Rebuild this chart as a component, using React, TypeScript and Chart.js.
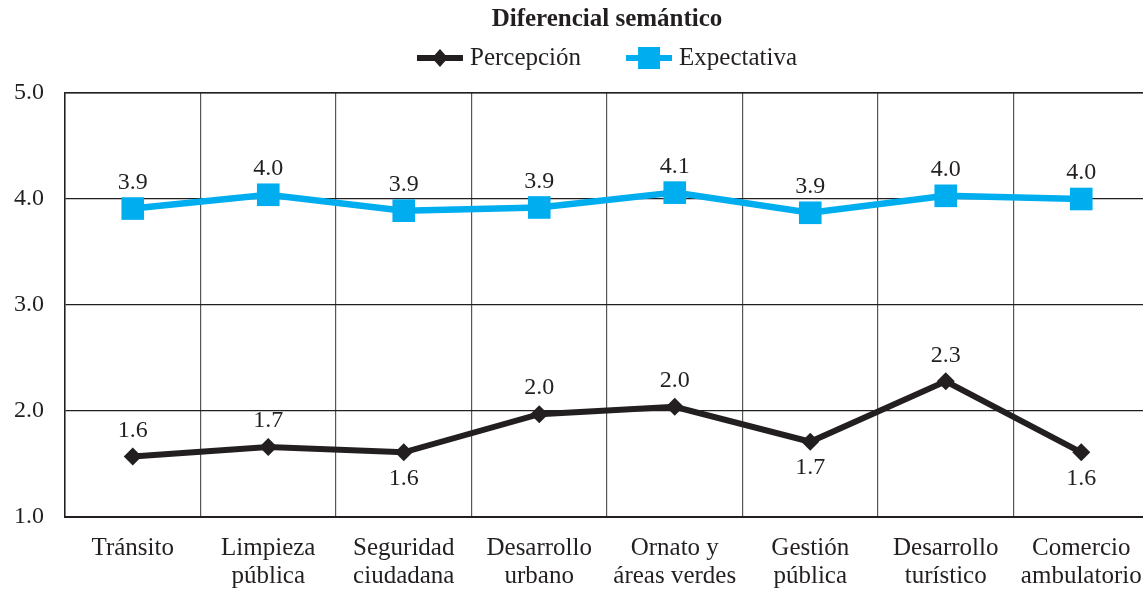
import React, { useEffect, useRef } from "react";
import { Chart, registerables } from "chart.js";

Chart.register(...registerables);

const chartTitle = "Diferencial semántico";
const categories: string[][] = [
  ["Tránsito"],
  ["Limpieza", "pública"],
  ["Seguridad", "ciudadana"],
  ["Desarrollo", "urbano"],
  ["Ornato y", "áreas verdes"],
  ["Gestión", "pública"],
  ["Desarrollo", "turístico"],
  ["Comercio", "ambulatorio"],
];
const percepcion = [1.57, 1.66, 1.61, 1.97, 2.04, 1.71, 2.28, 1.61];
const expectativa = [3.91, 4.04, 3.89, 3.92, 4.06, 3.87, 4.03, 4.0];
// label position: 1 = above the point, -1 = below
const percepcionLabelPos = [1, 1, -1, 1, 1, -1, 1, -1];
const expectativaLabelPos = [1, 1, 1, 1, 1, 1, 1, 1];
const yTicks = [1, 2, 3, 4, 5];

const BLACK = "#231f20";
const BLUE = "#00aeef";
const FONT = "'Liberation Serif', 'DejaVu Serif', serif";

const labelPlugin = {
  id: "valueLabels",
  afterDatasetsDraw(chart: any) {
    const ctx = chart.ctx;
    ctx.save();
    ctx.font = `24px ${FONT}`;
    ctx.fillStyle = BLACK;
    ctx.textAlign = "center";
    ctx.textBaseline = "middle";
    chart.data.datasets.forEach((ds: any, di: number) => {
      const meta = chart.getDatasetMeta(di);
      const pos = di === 0 ? percepcionLabelPos : expectativaLabelPos;
      meta.data.forEach((pt: any, i: number) => {
        const v = ds.data[i] as number;
        const off = pos[i] > 0 ? -26 : 26;
        ctx.fillText(v.toFixed(1), pt.x, pt.y + off);
      });
    });
    ctx.restore();
  },
};

const headerPlugin = {
  id: "header",
  afterDraw(chart: any) {
    const { ctx, chartArea } = chart;
    const cx = (chartArea.left + chartArea.right) / 2;
    ctx.save();
    // top border
    ctx.strokeStyle = BLACK;
    ctx.lineWidth = 1.2;
    ctx.beginPath();
    ctx.moveTo(chartArea.left, chartArea.top);
    ctx.lineTo(chartArea.right, chartArea.top);
    ctx.stroke();
    // title
    ctx.fillStyle = BLACK;
    ctx.textBaseline = "middle";
    ctx.textAlign = "center";
    ctx.font = `bold 25px ${FONT}`;
    ctx.fillText(chartTitle, cx, 20);
    // legend
    ctx.font = `25px ${FONT}`;
    ctx.textAlign = "left";
    const items = chart.data.datasets.map((ds: any) => ({
      label: ds.label as string,
      color: ds.borderColor as string,
      style: ds.pointStyle as string,
      w: ctx.measureText(ds.label).width,
    }));
    const sampleW = 46;
    const gap = 7;
    const itemGap = 45;
    const total =
      items.reduce((a: number, it: any) => a + sampleW + gap + it.w, 0) +
      itemGap * (items.length - 1);
    let x = cx - total / 2;
    const y = 58;
    items.forEach((it: any) => {
      ctx.strokeStyle = it.color;
      ctx.fillStyle = it.color;
      ctx.lineWidth = 6;
      ctx.beginPath();
      ctx.moveTo(x, y);
      ctx.lineTo(x + sampleW, y);
      ctx.stroke();
      const mx = x + sampleW / 2;
      ctx.beginPath();
      if (it.style === "rectRot") {
        ctx.moveTo(mx, y - 9);
        ctx.lineTo(mx + 8, y);
        ctx.lineTo(mx, y + 9);
        ctx.lineTo(mx - 8, y);
        ctx.closePath();
        ctx.fill();
      } else {
        ctx.fillRect(mx - 11, y - 11, 22, 22);
      }
      ctx.fillStyle = BLACK;
      ctx.fillText(it.label, x + sampleW + gap, y);
      x += sampleW + gap + it.w + itemGap;
    });
    ctx.restore();
  },
};

export default function App() {
  const ref = useRef<HTMLCanvasElement | null>(null);
  useEffect(() => {
    document.body.style.margin = "0";
    document.body.style.overflow = "hidden";
    const canvas = ref.current!;
    const chart = new Chart(canvas, {
      type: "line",
      data: {
        labels: categories,
        datasets: [
          {
            label: "Percepción",
            data: percepcion,
            borderColor: BLACK,
            backgroundColor: BLACK,
            borderWidth: 6,
            pointStyle: "rectRot",
            pointRadius: 9,
            pointBorderWidth: 0,
            pointBackgroundColor: BLACK,
            tension: 0,
          },
          {
            label: "Expectativa",
            data: expectativa,
            borderColor: BLUE,
            backgroundColor: BLUE,
            borderWidth: 6.5,
            pointStyle: "rect",
            pointRadius: 16,
            pointBorderWidth: 0,
            pointBackgroundColor: BLUE,
            tension: 0,
          },
        ],
      },
      options: {
        animation: false,
        responsive: false,
        maintainAspectRatio: false,
        layout: { padding: { left: 0, right: 0, top: 93, bottom: 0 } },
        plugins: {
          title: { display: false },
          legend: { display: false },
          tooltip: { enabled: false },
        },
        scales: {
          x: {
            offset: true,
            grid: {
              offset: true,
              color: "#555555",
              lineWidth: 1.2,
              drawTicks: false,
            },
            border: { color: BLACK, width: 2 },
            ticks: {
              color: BLACK,
              font: { family: FONT, size: 25, lineHeight: 1.12 },
              padding: 17,
              maxRotation: 0,
              autoSkip: false,
            },
            afterFit: (s: any) => {
              s.height = 72;
              s.paddingLeft = 0;
              s.paddingRight = 0;
            },
          },
          y: {
            min: 1,
            max: 5,
            afterBuildTicks: (s: any) => {
              s.ticks = yTicks.map((v) => ({ value: v }));
            },
            grid: { color: BLACK, lineWidth: 1.2, drawTicks: false },
            border: { color: BLACK, width: 1.5 },
            ticks: {
              color: BLACK,
              font: { family: FONT, size: 24 },
              padding: 21,
              callback: (v: any) => Number(v).toFixed(1),
            },
            afterFit: (s: any) => {
              s.width = 65;
              s.paddingTop = 0;
              s.paddingBottom = 0;
            },
          },
        },
      },
      plugins: [labelPlugin, headerPlugin],
    });
    return () => chart.destroy();
  }, []);
  return (
    <div style={{ width: 1143, height: 589, overflow: "hidden" }}>
      <canvas ref={ref} width={1165} height={589} style={{ display: "block" }} />
    </div>
  );
}
